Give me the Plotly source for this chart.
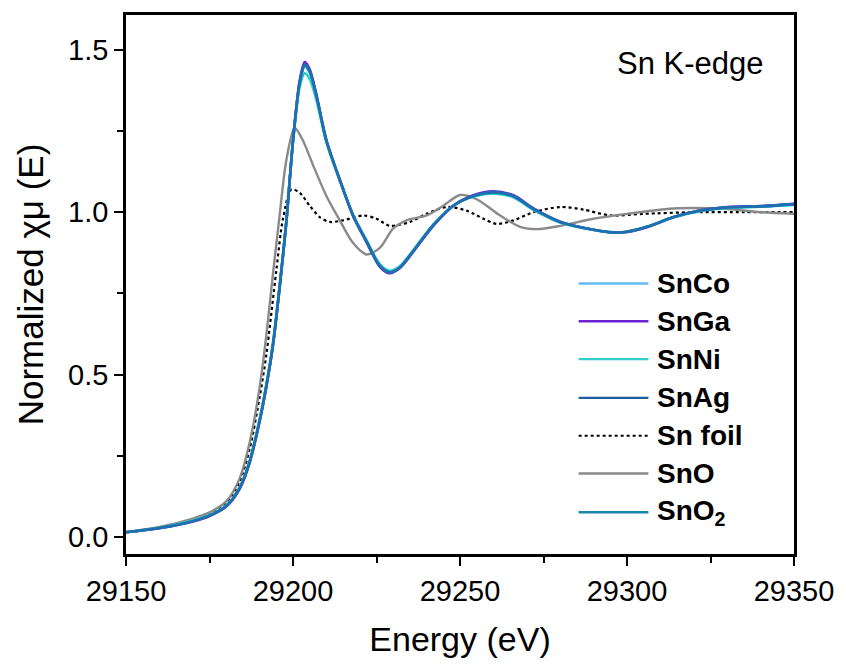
import plotly.graph_objects as go

# ---------------- data ----------------
energy_main = [29150, 29160, 29170, 29175, 29180, 29184, 29187, 29190, 29192, 29194,
               29196, 29198, 29200, 29202, 29203.5, 29205, 29207, 29210, 29214, 29218,
               29222, 29226, 29229, 29232, 29236, 29242, 29248, 29254, 29260, 29266,
               29272, 29280, 29288, 29296, 29300, 29306, 29314, 29322, 29330, 29340, 29350]

sn_co = [0.015, 0.028, 0.05, 0.067, 0.096, 0.152, 0.232, 0.36, 0.466, 0.594, 0.772, 0.972,
         1.218, 1.395, 1.448, 1.43, 1.355, 1.218, 1.098, 0.99, 0.912, 0.837, 0.818, 0.832,
         0.882, 0.962, 1.02, 1.048, 1.058, 1.047, 1.008, 0.968, 0.949, 0.937, 0.939, 0.955,
         0.984, 1.004, 1.014, 1.018, 1.024]
sn_ga = [0.015, 0.027, 0.048, 0.065, 0.094, 0.148, 0.228, 0.355, 0.461, 0.589, 0.768, 0.968,
         1.22, 1.405, 1.462, 1.44, 1.362, 1.222, 1.1, 0.988, 0.908, 0.832, 0.812, 0.828,
         0.878, 0.958, 1.02, 1.052, 1.064, 1.052, 1.012, 0.971, 0.95, 0.937, 0.939, 0.954,
         0.985, 1.006, 1.016, 1.019, 1.026]
sn_ni = [0.015, 0.029, 0.051, 0.068, 0.097, 0.153, 0.235, 0.363, 0.469, 0.597, 0.775, 0.975,
         1.215, 1.385, 1.428, 1.41, 1.345, 1.215, 1.098, 0.992, 0.914, 0.84, 0.82, 0.834,
         0.883, 0.962, 1.02, 1.048, 1.058, 1.046, 1.007, 0.968, 0.949, 0.938, 0.94, 0.956,
         0.985, 1.004, 1.013, 1.017, 1.022]
sn_ag = [0.015, 0.028, 0.049, 0.066, 0.095, 0.15, 0.23, 0.358, 0.464, 0.592, 0.77, 0.97,
         1.22, 1.40, 1.455, 1.435, 1.36, 1.22, 1.10, 0.99, 0.91, 0.835, 0.815, 0.83,
         0.88, 0.96, 1.02, 1.05, 1.062, 1.05, 1.01, 0.97, 0.95, 0.938, 0.94, 0.955,
         0.985, 1.005, 1.015, 1.018, 1.025]
sn_o2 = [0.015, 0.028, 0.049, 0.066, 0.095, 0.15, 0.231, 0.358, 0.464, 0.592, 0.77, 0.97,
         1.22, 1.398, 1.45, 1.432, 1.358, 1.22, 1.1, 0.99, 0.91, 0.835, 0.815, 0.83,
         0.88, 0.96, 1.02, 1.05, 1.06, 1.049, 1.01, 0.97, 0.95, 0.938, 0.94, 0.955,
         0.985, 1.005, 1.015, 1.018, 1.025]

energy_sno = [29150, 29160, 29170, 29175, 29180, 29184, 29187, 29190, 29192, 29194, 29196,
              29198, 29200.5, 29203, 29206, 29210, 29214, 29218, 29222, 29226, 29230, 29234,
              29240, 29245, 29250, 29255, 29262, 29268, 29273, 29280, 29290, 29300, 29315,
              29330, 29340, 29350]
sn_o = [0.015, 0.031, 0.057, 0.076, 0.11, 0.18, 0.29, 0.46, 0.62, 0.81, 0.99, 1.16, 1.26,
        1.22, 1.145, 1.05, 0.975, 0.905, 0.87, 0.89, 0.95, 0.975, 0.99, 1.02, 1.053, 1.04,
        0.99, 0.955, 0.948, 0.958, 0.98, 0.995, 1.012, 1.01, 1.0, 0.995]

energy_foil = [29150, 29160, 29170, 29175, 29180, 29184, 29187, 29190, 29192, 29195, 29197,
               29199.5, 29202, 29205, 29208, 29211, 29215, 29221, 29225, 29229, 29235, 29240,
               29246, 29252, 29257, 29261, 29266, 29272, 29280, 29287, 29295, 29305, 29320,
               29335, 29350]
sn_foil = [0.015, 0.03, 0.054, 0.073, 0.105, 0.17, 0.27, 0.43, 0.56, 0.82, 0.98, 1.07, 1.06,
           1.02, 0.985, 0.97, 0.975, 0.99, 0.98, 0.958, 0.97, 0.995, 1.016, 1.005, 0.98,
           0.964, 0.975, 1.0, 1.016, 1.008, 0.99, 0.995, 1.0, 1.0, 1.0]

x_ticks = [29150, 29200, 29250, 29300, 29350]
y_ticks = [0.0, 0.5, 1.0, 1.5]
y_tick_text = ["0.0", "0.5", "1.0", "1.5"]

FONT = "Liberation Sans, Arial, sans-serif"

fig = go.Figure()

fig.add_trace(go.Scatter(x=energy_foil, y=sn_foil, mode="lines", name="Sn foil",
                         line=dict(color="black", width=2.2, dash="dot", shape="spline", smoothing=0.8)))
fig.add_trace(go.Scatter(x=energy_sno, y=sn_o, mode="lines", name="SnO",
                         line=dict(color="#8a8a8a", width=2.4, shape="spline", smoothing=0.8)))

main_series = [
    ("SnCo", sn_co, "#62BCF2"),
    ("SnGa", sn_ga, "#6A22D4"),
    ("SnNi", sn_ni, "#30CFCC"),
    ("SnO<sub>2</sub>", sn_o2, "#1A86A8"),
    ("SnAg", sn_ag, "#1F6EB0"),
]
for name, vals, col in main_series:
    fig.add_trace(go.Scatter(x=energy_main, y=vals, mode="lines", name=name,
                             line=dict(color=col, width=2.6, shape="spline", smoothing=0.8)))

# ---- custom legend (long line samples like the original) ----
L, R, T, B = 126, 796, 12, 554
def px(xp):
    return (xp - L) / (R - L)
def py(yp):
    return (B - yp) / (B - T)

legend_items = [
    ("SnCo", "#62BCF2", "solid"),
    ("SnGa", "#6A22D4", "solid"),
    ("SnNi", "#30CFCC", "solid"),
    ("SnAg", "#1F5E9E", "solid"),
    ("Sn foil", "black", "dot"),
    ("SnO", "#8a8a8a", "solid"),
    ("SnO<sub>2</sub>", "#1A86A8", "solid"),
]
row_px = [282, 320, 358, 397, 435, 473, 512]
for (lab, col, dash), yrow in zip(legend_items, row_px):
    fig.add_shape(type="line", xref="paper", yref="paper",
                  x0=px(580), x1=px(650), y0=py(yrow), y1=py(yrow),
                  line=dict(color=col, width=2.4 if dash == "solid" else 2, dash=dash))
    fig.add_annotation(xref="paper", yref="paper", x=px(657), y=py(yrow),
                       xanchor="left", yanchor="middle", showarrow=False,
                       text="<b>" + lab + "</b>",
                       font=dict(family=FONT, size=28, color="black"))

fig.add_annotation(xref="paper", yref="paper", x=px(768), y=py(61),
                   xanchor="right", yanchor="middle", showarrow=False,
                   text="Sn K-edge", font=dict(family=FONT, size=31, color="black"))

axis_common = dict(showline=True, linecolor="black", linewidth=2.5, mirror=True,
                   ticks="outside", ticklen=9, tickwidth=2, tickcolor="black",
                   showgrid=False, zeroline=False,
                   tickfont=dict(family=FONT, size=29, color="black"))

fig.update_xaxes(range=[29150, 29350], tickvals=x_ticks, ticktext=[str(v) for v in x_ticks],
                 minor=dict(ticks="outside", dtick=25, tick0=29150, ticklen=6, tickwidth=2, tickcolor="black"),
                 title=dict(text="Energy (eV)", font=dict(family=FONT, size=34, color="black"), standoff=22),
                 **axis_common)
fig.update_yaxes(range=[-0.052, 1.607], tickvals=y_ticks, ticktext=y_tick_text,
                 minor=dict(ticks="outside", dtick=0.25, tick0=0, ticklen=6, tickwidth=2, tickcolor="black"),
                 title=dict(text="Normalized χμ (E)", font=dict(family=FONT, size=35, color="black"), standoff=14),
                 **axis_common)

fig.update_layout(width=846, height=664, margin=dict(l=126, r=50, t=12, b=110),
                  paper_bgcolor="white", plot_bgcolor="white", showlegend=False)

fig.write_html("out.html")
